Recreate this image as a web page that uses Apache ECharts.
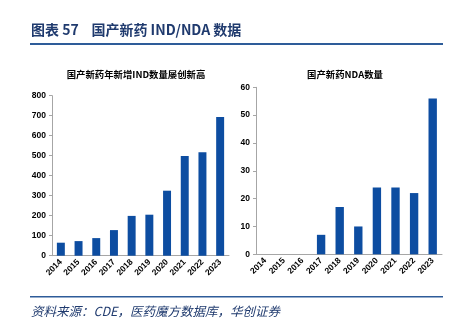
<!DOCTYPE html>
<html><head><meta charset="utf-8">
<script src="https://cdn.jsdelivr.net/npm/echarts@6/dist/echarts.min.js"></script>
<style>html,body{margin:0;padding:0;background:#fff}#c{width:459px;height:322px}</style>
</head><body><div id="c"></div>
<script>
const years = ['2014','2015','2016','2017','2018','2019','2020','2021','2022','2023'];
const indValues = [65, 73, 88, 128, 199, 205, 325, 499, 517, 694];
const ndaValues = [0, 0, 0, 7, 17, 10, 24, 24, 22, 56];
const indTicks = [0, 100, 200, 300, 400, 500, 600, 700, 800];
const ndaTicks = [0, 10, 20, 30, 40, 50, 60];

const barColor = '#0D4DA1';
const axisColor = '#A6A6A6';
const font = '"Liberation Sans", Arial, sans-serif';
const cjk = '"Noto Sans CJK SC", sans-serif';

function xAx(grid){
  return {type:'category', gridIndex:grid, data:years,
    axisLine:{lineStyle:{color:axisColor}}, axisTick:{show:false},
    axisLabel:{rotate:45, fontSize:8.5, fontWeight:'bold', color:'#000', fontFamily:font, margin:5, interval:0}};
}
function yAx(grid, max, step){
  return {type:'value', gridIndex:grid, min:0, max:max, interval:step,
    axisLine:{show:true, lineStyle:{color:axisColor}}, axisTick:{show:true, length:3, lineStyle:{color:axisColor}},
    splitLine:{show:false},
    axisLabel:{fontSize:8.5, fontWeight:'bold', color:'#000', fontFamily:font, margin:6}};
}
const chart = echarts.init(document.getElementById('c'), null, {renderer:'canvas'});
chart.setOption({
  animation:false,
  backgroundColor:'#fff',
  title:[
    {text:'国产新药年新增IND数量屡创新高', left:131, top:65, textAlign:'center',
     textStyle:{fontSize:9.4, fontWeight:'bold', color:'#000', fontFamily:cjk}},
    {text:'国产新药NDA数量', left:340, top:65, textAlign:'center',
     textStyle:{fontSize:9.4, fontWeight:'bold', color:'#000', fontFamily:cjk}}
  ],
  grid:[
    {left:52, right:230, top:95.7, bottom:66.3},
    {left:256, right:17, top:87.3, bottom:67.7}
  ],
  xAxis:[xAx(0), xAx(1)],
  yAxis:[yAx(0, indTicks[indTicks.length-1], indTicks[1]-indTicks[0]), yAx(1, ndaTicks[ndaTicks.length-1], ndaTicks[1]-ndaTicks[0])],
  series:[
    {type:'bar', xAxisIndex:0, yAxisIndex:0, data:indValues, barWidth:'45%', itemStyle:{color:barColor}},
    {type:'bar', xAxisIndex:1, yAxisIndex:1, data:ndaValues, barWidth:'45%', itemStyle:{color:barColor}}
  ],
  graphic:[
    {type:'text', left:31, top:23, style:{text:'图表 57    国产新药 IND/NDA 数据', font:'bold 14px "Noto Sans CJK SC", serif', fill:'#1F3A6E'}},
    {type:'rect', shape:{x:30, y:43, width:413, height:2}, style:{fill:'#2E5C99'}},
    {type:'rect', shape:{x:30, y:296, width:413, height:1.5}, style:{fill:'#2E5C99'}},
    {type:'text', left:31, top:305, style:{text:'资料来源：CDE，医药魔方数据库，华创证券', font:'italic 12.5px "Noto Sans CJK SC", serif', fill:'#1F3A6E'}}
  ]
});
</script></body></html>
